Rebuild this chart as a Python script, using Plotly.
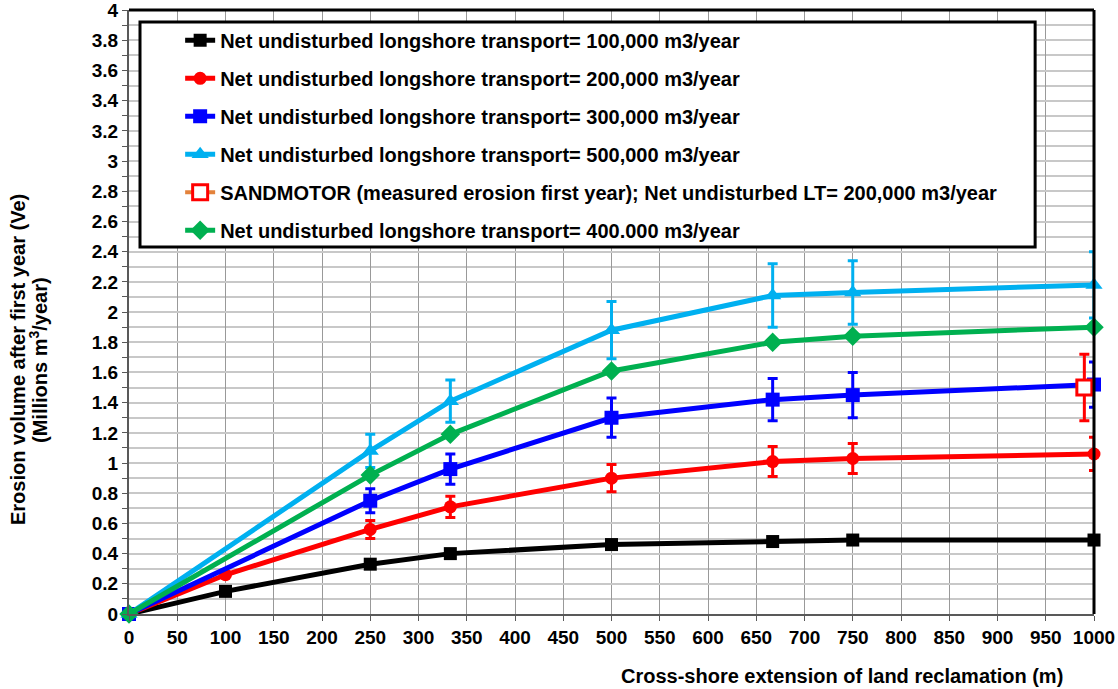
import plotly.graph_objects as go

# Cross-shore extension of the reclamation (m)
x_full = [0, 100, 250, 333, 500, 667, 750, 1000]
x_main = [0, 250, 333, 500, 667, 750, 1000]

# Erosion volume after first year (millions m3/year)
ve_100k = [0, 0.15, 0.33, 0.40, 0.46, 0.48, 0.49, 0.49]
ve_200k = [0, 0.26, 0.56, 0.71, 0.90, 1.01, 1.03, 1.06]
err_200k = [0, 0, 0.06, 0.07, 0.09, 0.10, 0.10, 0.11]
ve_300k = [0, 0.75, 0.96, 1.30, 1.42, 1.45, 1.52]
err_300k = [0, 0.08, 0.10, 0.13, 0.14, 0.15, 0.15]
ve_500k = [0, 1.08, 1.41, 1.88, 2.11, 2.13, 2.18]
err_500k = [0, 0.11, 0.14, 0.19, 0.21, 0.21, 0.22]
ve_400k = [0, 0.92, 1.19, 1.61, 1.80, 1.84, 1.90]

# Sand Motor measurement
x_sandmotor = [990]
ve_sandmotor = [1.50]
err_sandmotor = [0.22]

y_ticks = [0, 0.2, 0.4, 0.6, 0.8, 1, 1.2, 1.4, 1.6, 1.8, 2, 2.2, 2.4, 2.6,
           2.8, 3, 3.2, 3.4, 3.6, 3.8, 4]
y_ticklabels = ["0", "0.2", "0.4", "0.6", "0.8", "1", "1.2", "1.4", "1.6",
                "1.8", "2", "2.2", "2.4", "2.6", "2.8", "3", "3.2", "3.4",
                "3.6", "3.8", "4"]

FONT = "Liberation Sans, Arial, sans-serif"
LW = 5

fig = go.Figure()


def add_series(name, xs, ys, color, symbol, size, err=None, group=""):
    kw = {}
    if err is not None:
        kw["error_y"] = dict(type="data", array=err, visible=True,
                             color=color, thickness=3, width=5)
    fig.add_trace(go.Scatter(
        x=xs, y=ys, name=name, mode="lines+markers",
        line=dict(color=color, width=LW),
        marker=dict(symbol=symbol, size=size, color=color),
        cliponaxis=False, legendgroup=group, **kw))


add_series("Net undisturbed longshore transport= 100,000 m3/year",
           x_full, ve_100k, "#000000", "square", 13, group="a")
add_series("Net undisturbed longshore transport= 200,000 m3/year",
           x_full, ve_200k, "#FF0000", "circle", 13, err_200k, group="b")
add_series("Net undisturbed longshore transport= 300,000 m3/year",
           x_main, ve_300k, "#0000FF", "square", 14, err_300k, group="c")
add_series("Net undisturbed longshore transport= 500,000 m3/year",
           x_main, ve_500k, "#00B0F0", "triangle-up", 15, err_500k, group="d")

fig.add_trace(go.Scatter(
    x=x_sandmotor, y=ve_sandmotor, mode="lines+markers",
    name="SANDMOTOR (measured erosion first year); Net undisturbed LT= 200,000 m3/year",
    line=dict(color="#E3823B", width=4),
    marker=dict(symbol="square", size=15, color="white",
                line=dict(color="#FF0000", width=3)),
    error_y=dict(type="data", array=err_sandmotor, visible=True,
                 color="#FF0000", thickness=3, width=5),
    cliponaxis=False, legendgroup="e"))

add_series("Net undisturbed longshore transport= 400.000 m3/year",
           x_main, ve_400k, "#00B050", "diamond", 15, group="f")

fig.update_layout(
    width=1118, height=689,
    margin=dict(l=129, r=24, t=10, b=75, autoexpand=False),
    paper_bgcolor="white", plot_bgcolor="white",
    font=dict(family=FONT, size=19, color="black", weight="bold"),
    showlegend=True,
    legend=dict(x=0.053, y=0.982, xanchor="left", yanchor="top",
                bgcolor="rgba(0,0,0,0)", borderwidth=0,
                font=dict(family=FONT, size=20, color="black", weight="bold"),
                tracegroupgap=9, traceorder="grouped"),
    xaxis=dict(range=[0, 1000], dtick=50, tick0=0, automargin=False,
               showgrid=True, gridcolor="#999999", gridwidth=1,
               zeroline=False, showline=True, linecolor="#595959", linewidth=2,
               ticks="outside", ticklen=5, tickcolor="#595959",
               tickfont=dict(family=FONT, size=19, weight="bold")),
    yaxis=dict(range=[0, 4.001], tickmode="array", tickvals=y_ticks,
               ticktext=y_ticklabels, ticklabeloverflow="allow",
               automargin=False,
               showgrid=True, gridcolor="#C8C8C8", gridwidth=2,
               zeroline=False, showline=True, linecolor="#595959", linewidth=2,
               ticks="outside", ticklen=5, tickcolor="#595959",
               minor=dict(dtick=0.1, tick0=0, showgrid=True, gridcolor="#C8C8C8",
                          gridwidth=2, ticks="outside", ticklen=5,
                          tickcolor="#595959"),
               tickfont=dict(family=FONT, size=19, weight="bold")),
    shapes=[
        # top and right frame of the plot area
        dict(type="line", xref="paper", yref="paper", x0=0, x1=1, y0=1, y1=1,
             line=dict(color="black", width=3), layer="above"),
        dict(type="line", xref="paper", yref="paper", x0=1, x1=1, y0=0, y1=1,
             line=dict(color="black", width=3), layer="above"),
        # legend box
        dict(type="rect", xref="paper", yref="paper",
             x0=0.0114, x1=0.939, y0=0.6076, y1=0.980,
             fillcolor="white", line=dict(color="black", width=3),
             layer="above"),
    ],
    annotations=[
        dict(text="Cross-shore extension of land reclamation (m)",
             xref="paper", yref="paper", x=(842 - 129) / 965, y=-0.103,
             xanchor="center", yanchor="middle", showarrow=False,
             font=dict(family=FONT, size=20, weight="bold")),
        dict(text="Erosion volume after first year (Ve)",
             xref="paper", yref="paper", x=(18 - 129) / 965, y=(614 - 360) / 604,
             xanchor="center", yanchor="middle", textangle=-90, showarrow=False,
             font=dict(family=FONT, size=20, weight="bold")),
        dict(text="(Millions m<sup>3</sup>/year)",
             xref="paper", yref="paper", x=(38 - 129) / 965, y=(614 - 360) / 604,
             xanchor="center", yanchor="middle", textangle=-90, showarrow=False,
             font=dict(family=FONT, size=20, weight="bold")),
    ],
)

fig.write_html("out.html")
